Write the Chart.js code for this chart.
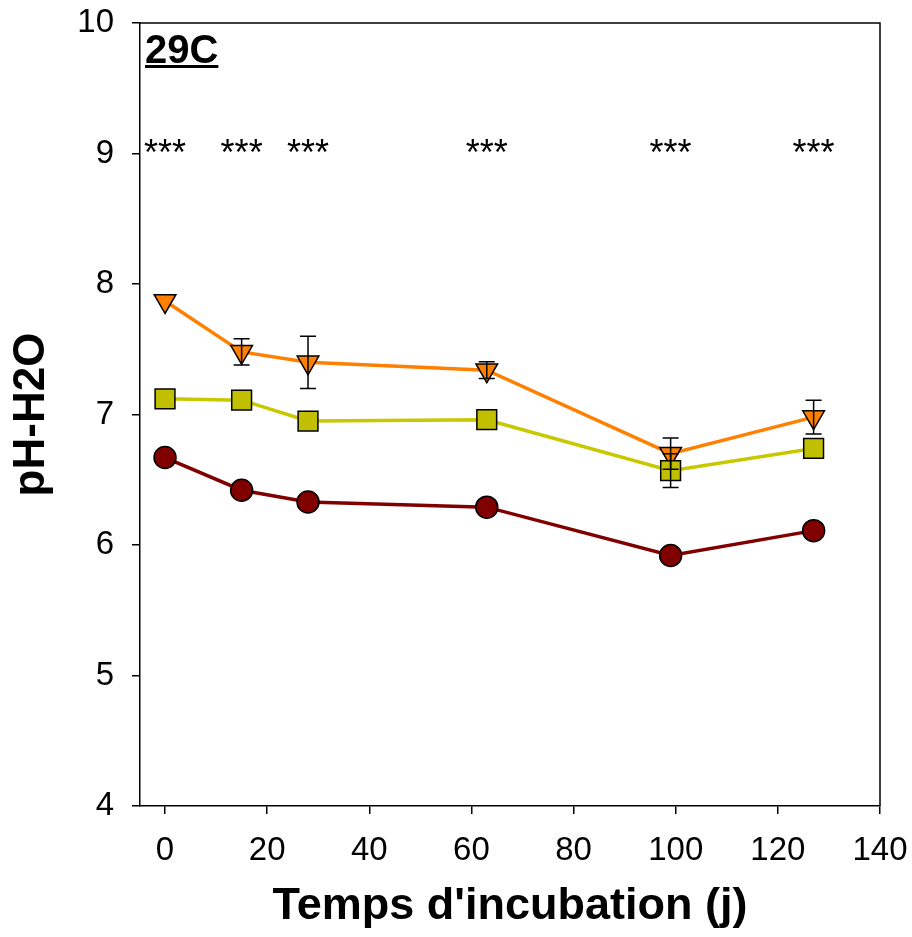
<!DOCTYPE html>
<html>
<head>
<meta charset="utf-8">
<script src="https://cdn.jsdelivr.net/npm/chart.js@4"></script>
<style>
  html, body { margin: 0; padding: 0; background: #fff; }
  #wrap { width: 912px; height: 937px; }
</style>
</head>
<body>
<div id="wrap"><canvas id="ph" width="912" height="937"></canvas></div>
<script>
// incubation days
const days = [0, 15, 28, 63, 99, 127];

// pH-H2O per treatment
const phCircle = [6.67, 6.42, 6.33, 6.29, 5.92, 6.11];
const phSquare = [7.12, 7.11, 6.95, 6.96, 6.57, 6.74];
const phTriangle = [7.87, 7.48, 7.40, 7.34, 6.70, 6.98];

// standard errors
const errCircle = [0, 0, 0, 0, 0, 0];
const errSquare = [0, 0, 0, 0, 0.13, 0];
const errTriangle = [0, 0.10, 0.20, 0.065, 0.12, 0.13];

// significance marks
const starDays = [0, 15, 28, 63, 99, 127];
const starText = '***';
const starLevel = 9.06;

const xTickValues = [0, 20, 40, 60, 80, 100, 120, 140];
const yTickValues = [4, 5, 6, 7, 8, 9, 10];
const panelLabel = '29C';

const FONT = '"Liberation Sans", Arial, sans-serif';

function pts(ys) {
  return days.map((d, i) => ({ x: d, y: ys[i] }));
}

const errorBars = {
  id: 'errorBars',
  afterDatasetsDraw(chart) {
    const { ctx, scales: { x, y } } = chart;
    ctx.save();
    ctx.strokeStyle = '#000';
    ctx.lineWidth = 1.5;
    chart.data.datasets.forEach(ds => {
      if (!ds.err) return;
      ds.data.forEach((p, i) => {
        const e = ds.err[i];
        if (!e) return;
        const px = x.getPixelForValue(p.x);
        const top = y.getPixelForValue(p.y + e);
        const bot = y.getPixelForValue(p.y - e);
        ctx.beginPath();
        ctx.moveTo(px, top); ctx.lineTo(px, bot);
        ctx.moveTo(px - 8, top); ctx.lineTo(px + 8, top);
        ctx.moveTo(px - 8, bot); ctx.lineTo(px + 8, bot);
        ctx.stroke();
      });
    });
    ctx.restore();
  }
};

const frameAndText = {
  id: 'frameAndText',
  afterDraw(chart) {
    const { ctx, chartArea: a, scales: { x, y } } = chart;
    ctx.save();
    // top and right sides of the box
    ctx.strokeStyle = '#000';
    ctx.lineWidth = 1.5;
    ctx.beginPath();
    ctx.moveTo(a.left, a.top); ctx.lineTo(a.right, a.top); ctx.lineTo(a.right, a.bottom);
    ctx.stroke();

    // stars
    ctx.fillStyle = '#000';
    ctx.font = '36px ' + FONT;
    ctx.textAlign = 'center';
    ctx.textBaseline = 'alphabetic';
    const sy = y.getPixelForValue(starLevel) + 19;
    starDays.forEach(d => ctx.fillText(starText, x.getPixelForValue(d), sy));

    // panel label, underlined
    ctx.font = 'bold 40px ' + FONT;
    ctx.textAlign = 'left';
    const lx = a.left + 5, ly = a.top + 40;
    ctx.fillText(panelLabel, lx, ly);
    const w = ctx.measureText(panelLabel).width;
    ctx.fillRect(lx, ly + 2, w, 3);
    ctx.restore();
  }
};

new Chart(document.getElementById('ph'), {
  type: 'scatter',
  data: {
    datasets: [
      {
        label: 'square', data: pts(phSquare), err: errSquare, order: 0,
        showLine: true, borderColor: '#C8C800', borderWidth: 3.5,
        pointStyle: 'rect', pointRadius: 14, pointBackgroundColor: '#C0C000',
        pointBorderColor: '#000', pointBorderWidth: 1.5
      },
      {
        label: 'triangle', data: pts(phTriangle), err: errTriangle, order: 1,
        showLine: true, borderColor: '#FF8000', borderWidth: 3.5,
        pointStyle: 'triangle', pointRotation: 180, pointRadius: 12.5,
        pointBackgroundColor: '#FF8000', pointBorderColor: '#000', pointBorderWidth: 1.5
      },
      {
        label: 'circle', data: pts(phCircle), err: errCircle, order: 2,
        showLine: true, borderColor: '#800000', borderWidth: 3.5,
        pointStyle: 'circle', pointRadius: 11, pointBackgroundColor: '#800000',
        pointBorderColor: '#000', pointBorderWidth: 1.5
      }
    ]
  },
  options: {
    responsive: false,
    animation: false,
    layout: { padding: { left: 0, right: 32, top: 23, bottom: 0 } },
    plugins: { legend: { display: false }, tooltip: { enabled: false } },
    scales: {
      x: {
        type: 'linear', min: -4.9, max: 140,
        afterBuildTicks: s => { s.ticks = xTickValues.map(v => ({ value: v })); },
        afterFit: s => { s.height = 131; s.paddingLeft = 0; s.paddingRight = 0; },
        grid: { drawOnChartArea: false, drawTicks: true, tickLength: 8, color: '#000', lineWidth: 1.5 },
        border: { display: true, color: '#000', width: 1.5 },
        ticks: { color: '#000', font: { family: FONT, size: 33 }, padding: 17, maxRotation: 0 },
        title: {
          display: true, text: "Temps d'incubation (j)", color: '#000',
          font: { family: FONT, size: 45, weight: 'bold' }, padding: { top: 0, bottom: 3 }
        }
      },
      y: {
        type: 'linear', min: 4, max: 10,
        afterBuildTicks: s => { s.ticks = yTickValues.map(v => ({ value: v })); },
        afterFit: s => { s.width = 140; s.paddingTop = 0; s.paddingBottom = 0; },
        grid: { drawOnChartArea: false, drawTicks: true, tickLength: 8, color: '#000', lineWidth: 1.5 },
        border: { display: true, color: '#000', width: 1.5 },
        ticks: { color: '#000', font: { family: FONT, size: 33 }, padding: 18 },
        title: {
          display: true, text: 'pH-H2O', color: '#000',
          font: { family: FONT, size: 44, weight: 'bold' }, padding: { top: 5, bottom: 0 }
        }
      }
    }
  },
  plugins: [errorBars, frameAndText]
});
</script>
</body>
</html>
